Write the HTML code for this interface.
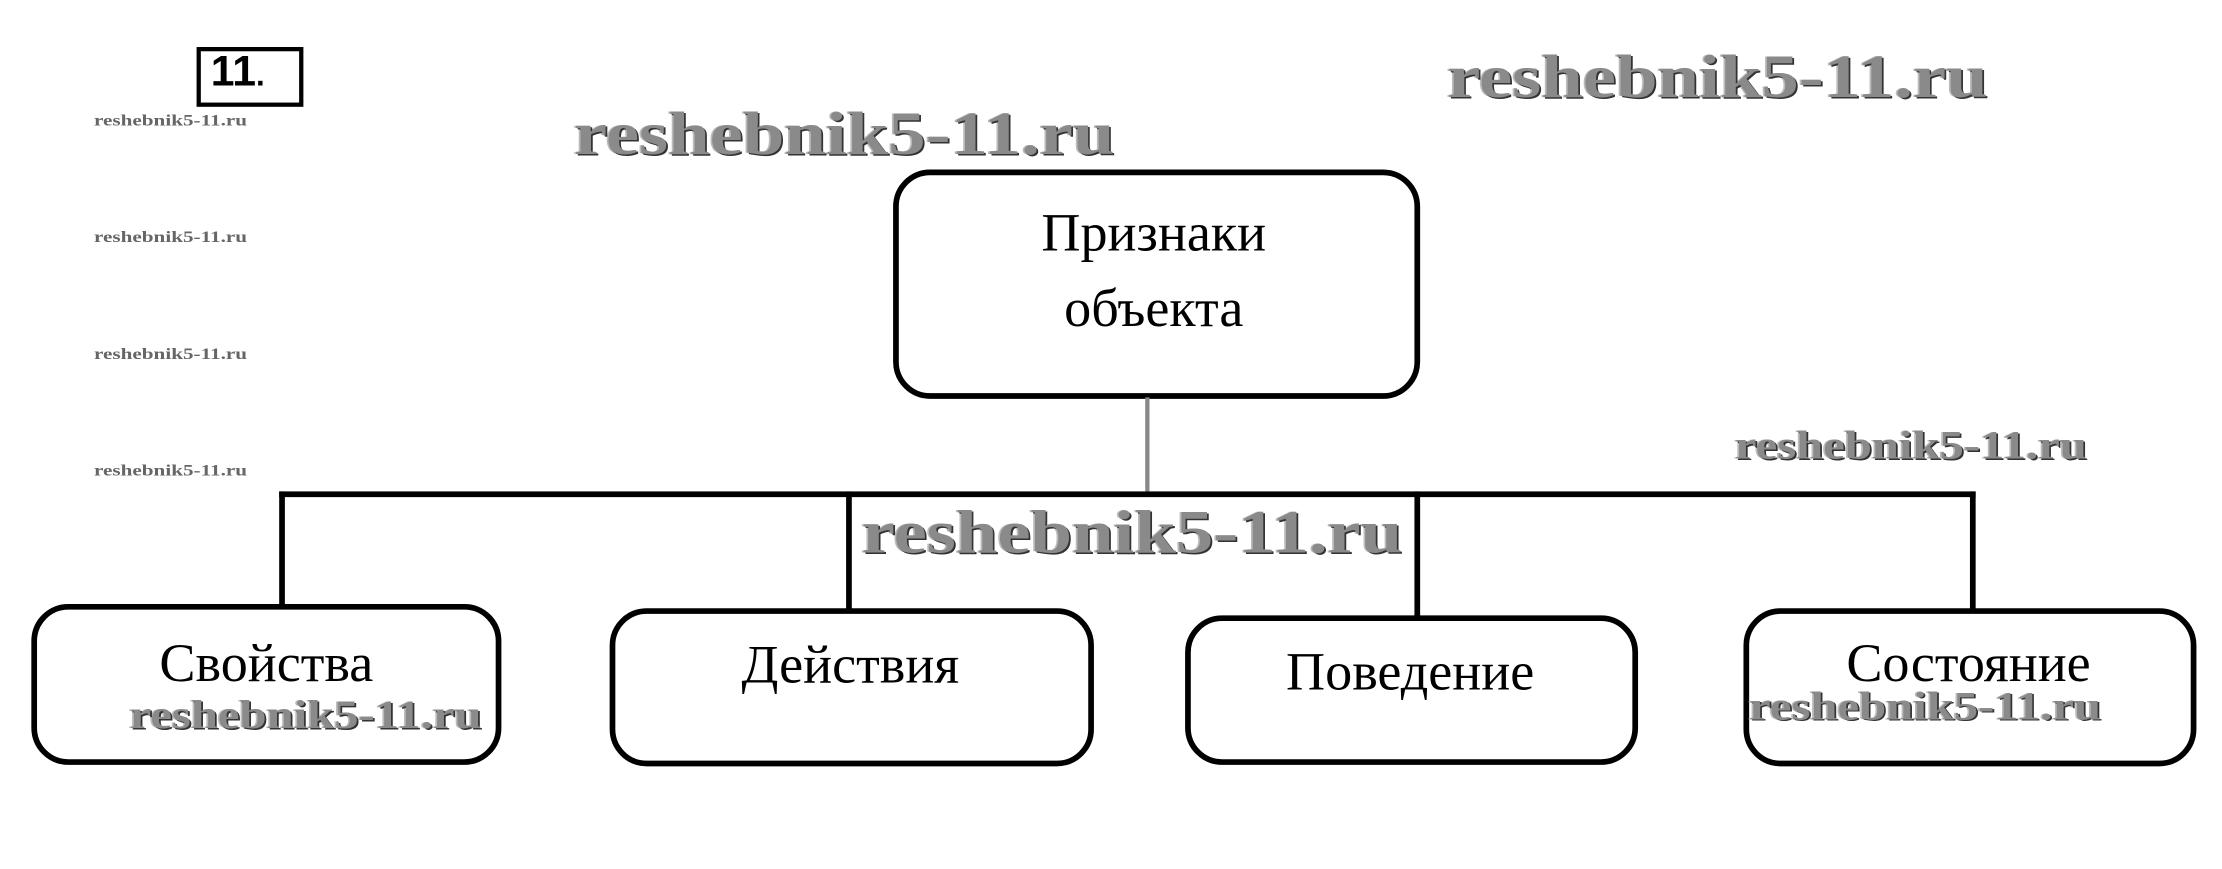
<!DOCTYPE html>
<html><head><meta charset="utf-8"><style>
html,body{margin:0;padding:0;background:#fff;width:2222px;height:868px;overflow:hidden}
#s{position:absolute;left:0;top:0;width:1560px;height:610px;transform:scale(1.4244);transform-origin:0 0;font-family:"Liberation Serif",serif}
.b{position:absolute;border:4px solid #000;border-radius:26px;box-sizing:border-box;background:#fff}
.l{position:absolute;background:#000}
.t{position:absolute;font-size:38px;color:#000;white-space:nowrap;transform:translateX(-50%) scaleX(1.0)}
.w{position:absolute;font-weight:bold;color:#8a8a8a;white-space:nowrap;text-shadow:1px 1px 0 #333,-1px 0 0 #bbb;transform-origin:0 0;transform:scaleX(1.22)}
.sw{position:absolute;font-weight:bold;color:#666;font-size:11px;white-space:nowrap;transform-origin:0 0;transform:scaleX(1.35)}
</style></head><body><div id="s">
<div style="position:absolute;left:138px;top:33px;width:75px;height:42px;border:3px solid #000;box-sizing:border-box"></div>
<div style="position:absolute;left:148px;top:34px;font:bold 30px 'Liberation Sans',sans-serif">11<span style="font-size:22px">.</span></div>
<div class="sw" style="left:66px;top:79px">reshebnik5-11.ru</div>
<div class="sw" style="left:66px;top:161px">reshebnik5-11.ru</div>
<div class="sw" style="left:66px;top:243px">reshebnik5-11.ru</div>
<div class="sw" style="left:66px;top:325px">reshebnik5-11.ru</div>

<div class="b" style="left:627px;top:119px;width:370px;height:161px"></div>
<div class="t" style="left:810px;top:142px">Признаки</div>
<div class="t" style="left:810px;top:195px">объекта</div>
<div class="l" style="left:804px;top:279px;width:3px;height:68px;background:#888"></div>
<div class="l" style="left:196px;top:345px;width:1191px;height:4px"></div>
<div class="l" style="left:196px;top:345px;width:4px;height:82px"></div>
<div class="l" style="left:594px;top:345px;width:4px;height:85px"></div>
<div class="l" style="left:993px;top:345px;width:4px;height:89px"></div>
<div class="l" style="left:1383px;top:345px;width:4px;height:85px"></div>

<div class="b" style="left:22px;top:424px;width:330px;height:113px"></div>
<div class="b" style="left:428px;top:427px;width:340px;height:111px"></div>
<div class="b" style="left:832px;top:432px;width:318px;height:105px"></div>
<div class="b" style="left:1224px;top:427px;width:318px;height:111px"></div>
<div class="t" style="left:187px;top:444px">Свойства</div>
<div class="t" style="left:597px;top:445px">Действия</div>
<div class="t" style="left:990px;top:450px">Поведение</div>
<div class="t" style="left:1382px;top:444px">Состояние</div>

<div class="w" style="left:403px;top:70px;font-size:43px">reshebnik5-11.ru</div>
<div class="w" style="left:1016px;top:30px;font-size:43px">reshebnik5-11.ru</div>
<div class="w" style="left:605px;top:350px;font-size:43px">reshebnik5-11.ru</div>
<div class="w" style="left:1218px;top:298px;font-size:28px">reshebnik5-11.ru</div>
<div class="w" style="left:91px;top:487px;font-size:28px">reshebnik5-11.ru</div>
<div class="w" style="left:1228px;top:481px;font-size:28px">reshebnik5-11.ru</div>
</div></body></html>
